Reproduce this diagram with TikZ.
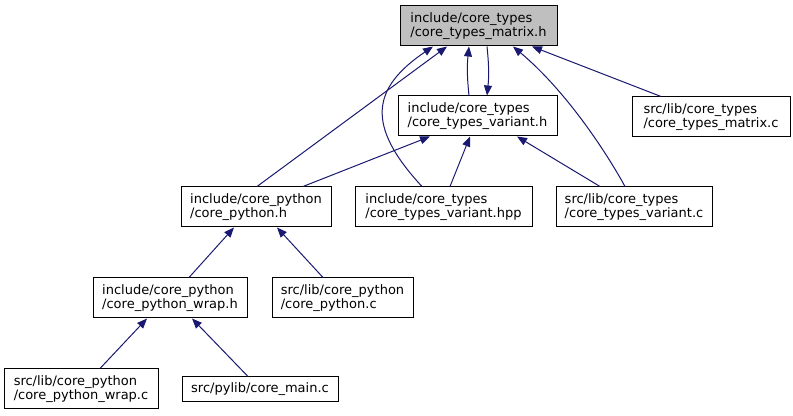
\documentclass[tikz,border=0pt]{standalone}
\usepackage{fontspec}
\setmainfont{DejaVu Sans}
\usetikzlibrary{arrows.meta,calc}
\definecolor{edgeblue}{HTML}{191970}
\definecolor{rootgray}{HTML}{BFBFBF}
\tikzset{
  % style for a file box, #1 is the width in pixels
  file/.style={
    draw=black, line width=0.75pt, align=left,
    inner xsep=0pt, inner ysep=0pt,
    minimum width=#1*0.75pt, minimum height=30pt,
    font=\fontsize{9.75pt}{9.5pt}\selectfont
  },
  % style for an include edge
  dep/.style={
    draw=edgeblue, line width=0.75pt,
    -{Triangle[length=7.5pt,width=6pt]}
  },
}

\begin{document}
\begin{tikzpicture}[x=0.75pt,y=-0.75pt]
  \useasboundingbox (0,0) rectangle (793,416);
  % Draw the file boxes
  \node[file=157, fill=rootgray] (matrixh) at (478.5,26) {include/core\_types\\/core\_types\_matrix.h};
  \node[file=159] (varianth) at (477.5,116) {include/core\_types\\/core\_types\_variant.h};
  \node[file=158] (matrixc) at (711,117) {src/lib/core\_types\\/core\_types\_matrix.c};
  \node[file=150] (pythonh) at (256,207) {include/core\_python\\/core\_python.h};
  \node[file=177] (varianthpp) at (443.5,207) {include/core\_types\\/core\_types\_variant.hpp};
  \node[file=156] (variantc) at (634,207) {src/lib/core\_types\\/core\_types\_variant.c};
  \node[file=154] (wraph) at (170,298) {include/core\_python\\/core\_python\_wrap.h};
  \node[file=141] (pythonc) at (342.5,298) {src/lib/core\_python\\/core\_python.c};
  \node[file=154] (wrapc) at (81,389) {src/lib/core\_python\\/core\_python\_wrap.c};
  \node[file=156, minimum height=18.75pt] (mainc) at (260,389.5) {src/pylib/core\_main.c};
  % Draw the straight include edges
  \foreach \a/\da/\b/\db in {pythonh/1/matrixh/-31.5, matrixc/-50/matrixh/53.5,
      pythonh/47/varianth/-47.5, varianthpp/6.5/varianth/-7.5, variantc/-34/varianth/39.5,
      wraph/19/pythonh/-22, pythonc/-19.5/pythonh/21,
      wrapc/19/wraph/-23, mainc/-12/wraph/22} {
    \draw[dep] ($(\a.north)+(\da,0)$) -- ($(\b.south)+(\db,0)$);
  }
  % the two headers include each other
  \draw[dep] ($(varianth.north)+(-8.5,0)$) to[bend left=6] ($(matrixh.south)+(-9.5,0)$);
  \draw[dep] ($(matrixh.south)+(8.5,0)$) to[bend left=6] ($(varianth.north)+(9.5,0)$);
  % Draw the curved edges
  \draw[dep] ($(varianthpp.north)+(-21.5,0)$) .. controls (365,125) and (372,88) .. ($(matrixh.south)+(-45.5,0)$);
  \draw[dep] ($(variantc.north)+(-9,0)$) .. controls (605,150) and (565,90) .. ($(matrixh.south)+(34.5,0)$);
\end{tikzpicture}
\end{document}
